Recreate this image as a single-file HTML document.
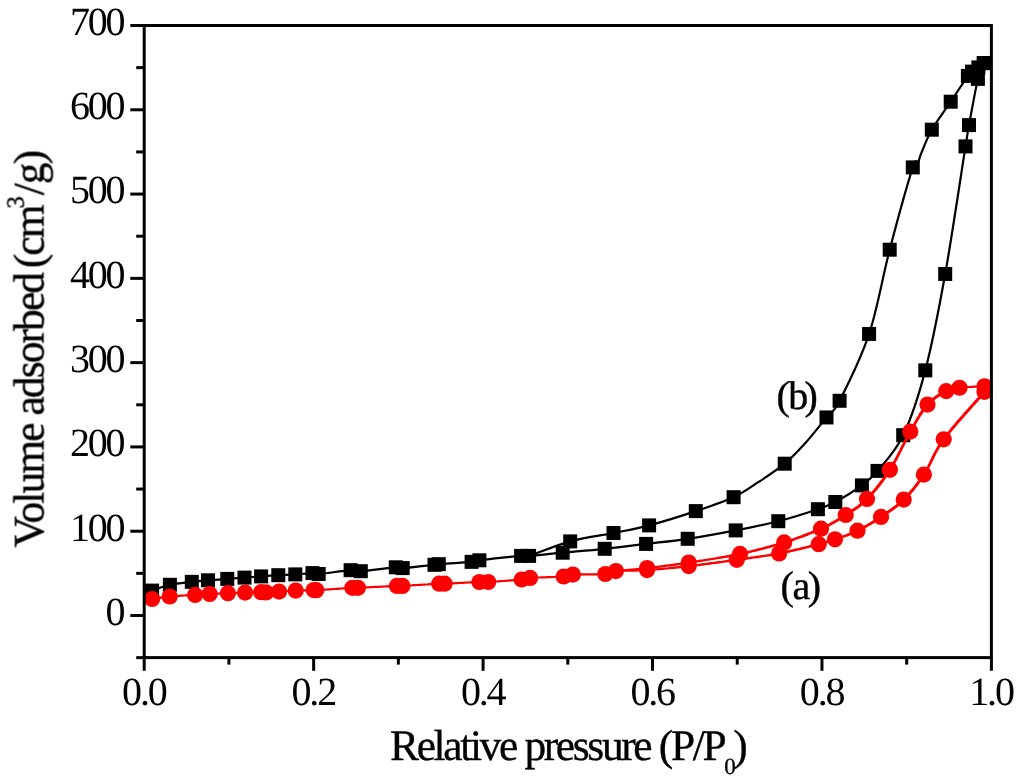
<!DOCTYPE html>
<html><head><meta charset="utf-8"><title>Isotherms</title>
<style>html,body{margin:0;padding:0;background:#fff;}body{width:1024px;height:783px;overflow:hidden;}svg{display:block;}text{font-family:"Liberation Serif",serif;fill:#000;text-rendering:geometricPrecision;}</style>
</head><body>
<svg width="1024" height="783" viewBox="0 0 1024 783">
<rect x="0" y="0" width="1024" height="783" fill="#fff"/>
<defs><clipPath id="cp"><rect x="144.20" y="25.50" width="848.70" height="632.10"/></clipPath></defs>
<g clip-path="url(#cp)">
<path fill="none" stroke="#000" stroke-width="2.20" stroke-linejoin="round" stroke-linecap="round" d="M152.10 590.60 C155.07 589.63 163.28 586.26 169.90 584.80 C176.52 583.34 185.45 582.60 191.80 581.85 C198.15 581.10 202.08 580.79 208.00 580.30 C213.92 579.81 221.22 579.35 227.30 578.90 C233.38 578.45 238.87 578.02 244.50 577.60 C250.13 577.18 255.47 576.80 261.10 576.40 C266.73 576.00 272.60 575.53 278.30 575.20 C284.00 574.87 289.60 574.75 295.30 574.40 C301.00 574.05 308.60 573.17 312.50 573.10 C316.40 573.03 312.35 574.48 318.70 574.00 C325.05 573.52 343.58 570.67 350.60 570.20 C357.62 569.73 353.27 571.68 360.80 571.20 C368.33 570.72 388.82 567.82 395.80 567.30 C402.78 566.78 396.25 568.52 402.70 568.10 C409.15 567.68 428.48 565.45 434.50 564.80 C440.52 564.15 432.62 564.69 438.80 564.20 C444.98 563.71 464.83 562.50 471.60 561.85 C478.37 561.20 471.15 561.29 479.40 560.30 C487.65 559.31 512.82 556.63 521.10 555.90 C529.38 555.17 522.17 556.43 529.10 555.90 C536.03 555.37 550.10 553.88 562.70 552.70 C575.30 551.52 590.80 550.27 604.70 548.80 C618.60 547.33 632.27 545.57 646.10 543.90 C659.93 542.23 672.77 541.05 687.70 538.80 C702.63 536.55 720.60 533.33 735.70 530.40 C750.80 527.47 764.60 524.73 778.30 521.20 C792.00 517.67 808.40 512.40 817.90 509.20 C827.40 506.00 827.97 505.97 835.30 502.00 C842.63 498.03 854.87 490.58 861.90 485.40 C868.93 480.22 870.62 479.27 877.50 470.90 C884.38 462.53 895.23 451.96 903.20 435.21 C911.17 418.45 918.30 397.23 925.30 370.36 C932.30 343.50 938.50 311.33 945.20 274.00 C951.90 236.67 961.53 171.22 965.50 146.40 C969.47 121.58 966.93 136.35 969.00 125.10 C971.07 113.85 975.43 89.23 977.90 78.90 C980.37 68.57 982.82 65.73 983.80 63.10 M983.80 63.10 C982.90 63.82 980.37 65.98 978.40 67.40 C976.43 68.82 973.75 70.18 972.00 71.60 C970.25 73.02 971.45 70.88 967.90 75.90 C964.35 80.92 956.72 92.73 950.70 101.70 C944.68 110.67 936.70 121.12 931.80 129.70 C926.90 138.28 923.73 147.32 921.30 153.20 C918.87 159.08 918.62 162.63 917.20 165.00 C915.78 167.37 917.38 153.28 912.80 167.40 C908.22 181.52 896.98 221.95 889.70 249.70 C882.42 277.45 877.45 308.75 869.10 333.93 C860.75 359.11 846.70 386.86 839.60 400.78 C832.50 414.70 832.43 410.13 826.50 417.44 C820.57 424.74 810.97 436.89 804.00 444.60 C797.03 452.31 792.32 457.43 784.70 463.70 C777.08 469.97 766.82 476.62 758.30 482.20 C749.78 487.78 744.02 492.38 733.60 497.20 C723.18 502.02 709.88 506.40 695.80 511.10 C681.72 515.80 662.82 521.75 649.10 525.40 C635.38 529.05 626.65 530.33 613.50 533.00 C600.35 535.67 584.27 537.58 570.20 541.40 C556.13 545.22 537.28 553.48 529.10 555.90 C520.92 558.32 522.43 555.90 521.10 555.90"/>
<g fill="#000">
<rect x="145.10" y="583.60" width="14.00" height="14.00"/>
<rect x="162.90" y="577.80" width="14.00" height="14.00"/>
<rect x="184.80" y="574.85" width="14.00" height="14.00"/>
<rect x="201.00" y="573.30" width="14.00" height="14.00"/>
<rect x="220.30" y="571.90" width="14.00" height="14.00"/>
<rect x="237.50" y="570.60" width="14.00" height="14.00"/>
<rect x="254.10" y="569.40" width="14.00" height="14.00"/>
<rect x="271.30" y="568.20" width="14.00" height="14.00"/>
<rect x="288.30" y="567.40" width="14.00" height="14.00"/>
<rect x="305.50" y="566.10" width="14.00" height="14.00"/>
<rect x="343.60" y="563.20" width="14.00" height="14.00"/>
<rect x="388.80" y="560.30" width="14.00" height="14.00"/>
<rect x="427.50" y="557.80" width="14.00" height="14.00"/>
<rect x="464.60" y="554.85" width="14.00" height="14.00"/>
<rect x="514.10" y="548.90" width="14.00" height="14.00"/>
<rect x="555.70" y="545.70" width="14.00" height="14.00"/>
<rect x="597.70" y="541.80" width="14.00" height="14.00"/>
<rect x="639.10" y="536.90" width="14.00" height="14.00"/>
<rect x="680.70" y="531.80" width="14.00" height="14.00"/>
<rect x="728.70" y="523.40" width="14.00" height="14.00"/>
<rect x="771.30" y="514.20" width="14.00" height="14.00"/>
<rect x="810.90" y="502.20" width="14.00" height="14.00"/>
<rect x="828.30" y="495.00" width="14.00" height="14.00"/>
<rect x="854.90" y="478.40" width="14.00" height="14.00"/>
<rect x="870.50" y="463.90" width="14.00" height="14.00"/>
<rect x="896.20" y="428.21" width="14.00" height="14.00"/>
<rect x="918.30" y="363.36" width="14.00" height="14.00"/>
<rect x="938.20" y="267.00" width="14.00" height="14.00"/>
<rect x="958.50" y="139.40" width="14.00" height="14.00"/>
<rect x="962.00" y="118.10" width="14.00" height="14.00"/>
<rect x="970.90" y="71.90" width="14.00" height="14.00"/>
<rect x="976.80" y="56.10" width="14.00" height="14.00"/>
<rect x="976.80" y="56.10" width="14.00" height="14.00"/>
<rect x="971.40" y="60.40" width="14.00" height="14.00"/>
<rect x="965.00" y="64.60" width="14.00" height="14.00"/>
<rect x="960.90" y="68.90" width="14.00" height="14.00"/>
<rect x="943.70" y="94.70" width="14.00" height="14.00"/>
<rect x="924.80" y="122.70" width="14.00" height="14.00"/>
<rect x="905.80" y="160.40" width="14.00" height="14.00"/>
<rect x="882.70" y="242.70" width="14.00" height="14.00"/>
<rect x="862.10" y="326.93" width="14.00" height="14.00"/>
<rect x="832.60" y="393.78" width="14.00" height="14.00"/>
<rect x="819.50" y="410.44" width="14.00" height="14.00"/>
<rect x="777.70" y="456.70" width="14.00" height="14.00"/>
<rect x="726.60" y="490.20" width="14.00" height="14.00"/>
<rect x="688.80" y="504.10" width="14.00" height="14.00"/>
<rect x="642.10" y="518.40" width="14.00" height="14.00"/>
<rect x="606.50" y="526.00" width="14.00" height="14.00"/>
<rect x="563.20" y="534.40" width="14.00" height="14.00"/>
<rect x="522.10" y="548.90" width="14.00" height="14.00"/>
<rect x="472.40" y="553.30" width="14.00" height="14.00"/>
<rect x="431.80" y="557.20" width="14.00" height="14.00"/>
<rect x="395.70" y="561.10" width="14.00" height="14.00"/>
<rect x="353.80" y="564.20" width="14.00" height="14.00"/>
<rect x="311.70" y="567.00" width="14.00" height="14.00"/>
</g>
<g fill="none" stroke="#ff0000" stroke-linejoin="round" stroke-linecap="round">
<path stroke-width="2.4" d="M152.1 599.0 L153.0 598.9 L154.1 598.7 L155.4 598.5 L156.9 598.2 L158.5 598.0 L160.2 597.7 L162.0 597.4 L163.9 597.2 L165.8 596.9 L167.7 596.7 L169.7 596.5"/>
<path stroke-width="2.2" d="M169.7 596.5 L171.1 596.4 L172.6 596.3 L174.1 596.1 L175.8 596.0 L177.4 595.9 L179.1 595.8 L180.9 595.7 L182.6 595.6 L184.3 595.5 L186.0 595.4 L187.7 595.3 L189.3 595.2 L190.9 595.1 L192.4 595.1 L193.8 595.0 L195.1 594.9 L197.2 594.8 L199.0 594.7 L200.6 594.5 L202.1 594.4 L203.6 594.4 L205.0 594.3 L206.4 594.2 L208.0 594.1 L209.7 594.0 L211.1 593.9 L212.5 593.9 L214.0 593.8 L215.5 593.7 L217.1 593.6 L218.6 593.6 L220.2 593.5 L221.8 593.4 L223.3 593.4 L224.9 593.3 L226.4 593.3 L227.9 593.2 L229.5 593.1 L231.1 593.1 L232.7 593.0 L234.3 593.0 L235.9 592.9 L237.4 592.8 L239.0 592.8 L240.5 592.7 L242.1 592.7 L243.6 592.6 L245.1 592.6 L246.8 592.5 L248.6 592.5 L250.3 592.4 L252.1 592.4 L253.9 592.4 L255.6 592.3 L257.2 592.3 L258.6 592.2 L260.0 592.2 L261.1 592.2 L263.3 592.3"/>
<path stroke-width="2.4" d="M263.3 592.3 L264.2 592.4"/>
<path stroke-width="2.2" d="M264.2 592.4 L266.0 592.4 L267.2 592.3 L268.6 592.3 L270.2 592.2 L271.8 592.1 L273.6 592.0 L275.4 591.8 L277.2 591.7 L279.1 591.6 L280.5 591.5 L281.9 591.4 L283.3 591.3 L284.8 591.2 L286.3 591.1 L287.9 591.0 L289.4 590.9 L291.0 590.8 L292.5 590.8 L294.1 590.7 L295.7 590.6 L297.2 590.5 L298.8 590.5 L300.5 590.4 L302.2 590.4 L303.9 590.3 L305.6 590.3 L307.2 590.2 L308.8 590.2 L310.2 590.2 L311.6 590.1 L312.7 590.1 L313.7 590.1"/>
<path stroke-width="3.0" d="M313.7 590.1 L313.9 590.3"/>
<path stroke-width="2.2" d="M313.9 590.3 L316.3 590.2 L317.2 590.1 L318.2 590.1 L319.4 590.0 L320.7 589.9 L322.2 589.8 L323.7 589.7 L325.3 589.6 L327.0 589.5 L328.7 589.4 L330.5 589.3 L332.3 589.1 L334.2 589.0 L336.0 588.9 L337.8 588.8 L339.6 588.6 L341.4 588.5 L343.1 588.4 L344.7 588.3 L346.3 588.2 L347.8 588.1 L349.1 588.0 L350.4 587.9 L351.5 587.9 L352.4 587.8 L355.3 587.7"/>
<path stroke-width="2.6" d="M355.3 587.7 L354.7 587.9"/>
<path stroke-width="2.2" d="M354.7 587.9 L357.9 587.8 L358.8 587.8 L359.9 587.7 L361.1 587.7 L362.4 587.6 L363.8 587.5 L365.3 587.5 L366.9 587.4 L368.5 587.3 L370.2 587.2 L372.0 587.1 L373.8 587.0 L375.6 586.9 L377.4 586.8 L379.2 586.8 L381.0 586.7 L382.8 586.6 L384.6 586.5 L386.3 586.4 L387.9 586.3 L389.5 586.2 L391.0 586.2 L392.4 586.1 L393.7 586.0 L394.9 586.0 L396.0 585.9 L396.9 585.9 L400.1 585.8"/>
<path stroke-width="2.6" d="M400.1 585.8 L399.5 586.0"/>
<path stroke-width="2.2" d="M399.5 586.0 L402.4 585.9 L403.4 585.8 L404.5 585.8 L405.7 585.7 L407.1 585.6 L408.6 585.5 L410.1 585.5 L411.8 585.4 L413.5 585.2 L415.3 585.1 L417.1 585.0 L418.9 584.9 L420.8 584.8 L422.7 584.7 L424.5 584.6 L426.3 584.5 L428.1 584.4 L429.8 584.2 L431.5 584.1 L433.0 584.1 L434.5 584.0 L435.9 583.9 L437.1 583.8 L438.2 583.8 L439.2 583.7 L442.2 583.6"/>
<path stroke-width="2.6" d="M442.2 583.6 L441.8 583.7"/>
<path stroke-width="2.2" d="M441.8 583.7 L444.6 583.7 L445.6 583.7 L446.7 583.6 L447.9 583.5 L449.2 583.5 L450.7 583.4 L452.2 583.3 L453.9 583.3 L455.6 583.2 L457.3 583.1 L459.1 583.0 L460.9 582.9 L462.7 582.8 L464.5 582.7 L466.3 582.6 L468.1 582.5 L469.8 582.4 L471.4 582.4 L473.0 582.3 L474.5 582.2 L475.9 582.2 L477.2 582.1 L478.4 582.0 L479.4 582.0 L482.4 581.9 L483.6 582.0"/>
<path stroke-width="2.4" d="M483.6 582.0 L484.1 582.1"/>
<path stroke-width="2.2" d="M484.1 582.1 L485.3 582.1 L488.2 582.0 L489.2 581.9 L490.4 581.9 L491.7 581.8 L493.1 581.7 L494.6 581.6 L496.2 581.5 L497.9 581.4 L499.6 581.2 L501.4 581.1 L503.2 581.0 L505.0 580.9 L506.8 580.7 L508.6 580.6 L510.3 580.4 L512.0 580.3 L513.7 580.2 L515.3 580.1 L516.8 579.9 L518.2 579.8 L519.5 579.7 L520.7 579.6 L521.7 579.5"/>
<path stroke-width="2.4" d="M521.7 579.5 L524.6 579.1"/>
<path stroke-width="2.6" d="M524.6 579.1 L525.7 578.8"/>
<path stroke-width="3.0" d="M525.7 578.8 L526.1 578.5"/>
<path stroke-width="2.6" d="M526.1 578.5 L527.2 578.2"/>
<path stroke-width="2.4" d="M527.2 578.2 L530.1 577.9"/>
<path stroke-width="2.2" d="M530.1 577.9 L531.1 577.8 L532.3 577.8 L533.6 577.7 L535.0 577.6 L536.5 577.6 L538.1 577.5 L539.8 577.5 L541.5 577.4 L543.3 577.3 L545.0 577.3 L546.9 577.2 L548.7 577.2 L550.5 577.1 L552.2 577.0 L553.9 577.0 L555.6 576.9 L557.2 576.8 L558.7 576.8 L560.2 576.7 L561.5 576.6 L562.7 576.6 L563.7 576.5"/>
<path stroke-width="2.4" d="M563.7 576.5 L566.4 576.2"/>
<path stroke-width="2.6" d="M566.4 576.2 L567.7 575.9"/>
<path stroke-width="2.8" d="M567.7 575.9 L568.4 575.5 L569.0 575.2"/>
<path stroke-width="2.6" d="M569.0 575.2 L570.3 574.8"/>
<path stroke-width="2.2" d="M570.3 574.8 L572.9 574.6 L574.0 574.5 L575.2 574.5 L576.5 574.5 L577.9 574.4 L579.5 574.4 L581.1 574.4 L582.8 574.4 L584.5 574.4 L586.3 574.4 L588.1 574.4 L589.9 574.4 L591.7 574.3 L593.5 574.3 L595.3 574.3 L597.0 574.3 L598.6 574.3 L600.1 574.2 L601.6 574.2 L603.0 574.1 L604.2 574.1 L605.3 574.0"/>
<path stroke-width="2.4" d="M605.3 574.0 L607.8 573.7"/>
<path stroke-width="2.6" d="M607.8 573.7 L609.3 573.3"/>
<path stroke-width="2.8" d="M609.3 573.3 L610.3 572.8 L611.1 572.3 L612.0 571.9"/>
<path stroke-width="2.6" d="M612.0 571.9 L613.5 571.4"/>
<path stroke-width="2.4" d="M613.5 571.4 L615.9 571.1"/>
<path stroke-width="2.2" d="M615.9 571.1 L617.0 571.0 L618.1 570.9 L619.4 570.9 L620.7 570.8 L622.0 570.8 L623.4 570.8 L624.9 570.7 L626.4 570.7 L628.0 570.7 L629.6 570.7 L631.2 570.6 L632.9 570.6 L634.6 570.6 L636.3 570.6 L638.1 570.5 L639.9 570.5 L641.7 570.4 L643.5 570.3 L645.3 570.2 L647.1 570.1 L648.5 570.0 L649.8 569.9 L651.2 569.8 L652.6 569.7 L654.1 569.6 L655.5 569.5 L657.0 569.3 L658.5 569.2 L660.0 569.1 L661.5 568.9 L663.0 568.8 L664.5 568.7 L666.1 568.5 L667.6 568.4 L669.2 568.2 L670.8 568.0"/>
<path stroke-width="2.4" d="M670.8 568.0 L672.4 567.9 L674.0 567.7 L675.6 567.5 L677.2 567.4 L678.8 567.2 L680.5 567.0 L682.1 566.8 L683.7 566.7 L685.4 566.5 L687.0 566.3 L688.7 566.1 L690.1 565.9 L691.5 565.8 L693.0 565.6 L694.4 565.4 L695.9 565.2 L697.4 565.1 L698.9 564.9 L700.4 564.7 L701.9 564.5 L703.4 564.3 L705.0 564.1 L706.5 563.9 L708.1 563.7 L709.6 563.5 L711.2 563.3 L712.7 563.1 L714.3 562.9 L715.8 562.7 L717.4 562.5 L718.9 562.3 L720.4 562.1 L722.0 561.9 L723.5 561.6 L725.0 561.4 L726.5 561.2 L728.0 561.0 L729.5 560.8 L731.0 560.6 L732.5 560.4 L733.9 560.2 L735.4 560.0 L736.8 559.8 L738.4 559.6 L740.0 559.4 L741.6 559.1 L743.2 558.9 L744.7 558.7 L746.3 558.5 L747.8 558.3 L749.4 558.1 L750.9 557.8 L752.4 557.6 L754.0 557.4 L755.5 557.2 L757.0 557.0 L758.5 556.8 L760.0 556.6 L761.5 556.3 L762.9 556.1 L764.4 555.9 L765.9 555.7 L767.4 555.4 L768.9 555.2 L770.3 555.0 L771.8 554.7 L773.2 554.5 L774.7 554.2 L776.2 553.9 L777.6 553.7 L779.1 553.4 L780.6 553.1 L782.2 552.8 L783.7 552.5 L785.3 552.1 L786.9 551.8 L788.5 551.5"/>
<path stroke-width="2.6" d="M788.5 551.5 L790.1 551.1 L791.8 550.7 L793.4 550.4 L795.0 550.0 L796.6 549.6 L798.2 549.3 L799.7 548.9 L801.3 548.5 L802.8 548.1 L804.4 547.8 L805.9 547.4 L807.3 547.1 L808.8 546.7 L810.2 546.3 L811.5 546.0 L812.8 545.7 L814.1 545.4 L815.3 545.0 L816.5 544.8 L817.6 544.5 L818.7 544.2 L821.0 543.6 L823.0 543.1 L824.7 542.7 L826.1 542.3 L827.3 541.9 L828.5 541.5 L829.6 541.2 L830.7 540.8 L832.0 540.4 L833.4 539.9 L835.0 539.3 L836.2 538.9 L837.5 538.4 L838.8 538.0 L840.2 537.5 L841.5 537.1 L842.9 536.6 L844.4 536.1 L845.8 535.6 L847.3 535.0"/>
<path stroke-width="2.8" d="M847.3 535.0 L848.7 534.5 L850.2 533.9 L851.7 533.3 L853.1 532.7 L854.6 532.0 L856.1 531.4 L857.5 530.7 L858.8 530.1 L860.1 529.4 L861.4 528.7 L862.7 528.1 L864.0 527.3 L865.3 526.6 L866.6 525.9 L867.9 525.1 L869.2 524.3 L870.6 523.6 L871.9 522.8 L873.2 522.0 L874.5 521.1 L875.8 520.3"/>
<path stroke-width="3.0" d="M875.8 520.3 L877.1 519.5 L878.4 518.6 L879.7 517.8 L881.0 516.9 L882.2 516.1 L883.4 515.3 L884.7 514.4 L885.9 513.6 L887.1 512.8 L888.3 512.0 L889.5 511.1 L890.7 510.3 L892.0 509.4 L893.2 508.5 L894.4 507.6 L895.6 506.7 L896.7 505.8 L897.9 504.8 L899.1 503.8 L900.3 502.8 L901.4 501.8 L902.6 500.7 L903.7 499.6 L904.7 498.6 L905.7 497.6 L906.7 496.5 L907.7 495.5 L908.7 494.4 L909.7 493.3 L910.6 492.2 L911.6 491.1 L912.6 490.0 L913.5 488.8 L914.5 487.6 L915.4 486.4 L916.3 485.2 L917.3 484.0 L918.2 482.7 L919.2 481.4 L920.1 480.1 L921.1 478.8 L922.0 477.4 L922.9 476.0 L923.9 474.6 L924.7 473.4"/>
<path stroke-width="2.8" d="M924.7 473.4 L925.4 472.3 L926.1 471.1 L926.8 469.9 L927.4 468.6 L928.1 467.4 L928.7 466.2 L929.3 464.9 L930.0 463.6 L930.6 462.3 L931.2 461.0 L931.9 459.7 L932.5 458.4 L933.2 457.0 L933.9 455.6 L934.6 454.2 L935.3 452.8 L936.1 451.4 L936.9 450.0 L937.7 448.5 L938.6 447.0 L939.5 445.5 L940.5 444.0"/>
<path stroke-width="3.0" d="M940.5 444.0 L941.5 442.5 L942.6 440.9 L943.7 439.3 L944.5 438.3 L945.3 437.2 L946.1 436.1 L947.0 435.0 L948.0 433.8 L948.9 432.6 L949.9 431.4 L951.0 430.1 L952.0 428.8 L953.1 427.5 L954.2 426.2 L955.3 424.9 L956.5 423.5 L957.6 422.2 L958.8 420.8 L960.0 419.5 L961.2 418.1 L962.4 416.8 L963.6 415.4 L964.7 414.0 L965.9 412.7 L967.1 411.4 L968.3 410.1 L969.4 408.8 L970.6 407.5 L971.7 406.2 L972.8 405.0 L973.9 403.8 L974.9 402.6 L975.9 401.5 L976.9 400.4 L977.9 399.3 L978.8 398.3 L979.7 397.3 L980.5 396.4 L981.3 395.5 L982.1 394.6 L982.7 393.9 L983.4 393.1 L984.0 392.5 L984.5 391.8"/>
<path stroke-width="2.2" d="M984.5 386.3 L983.6 386.4 L982.5 386.4 L981.2 386.5 L979.7 386.5 L978.1 386.6 L976.4 386.7 L974.7 386.7 L972.8 386.8 L971.0 386.9 L969.1 387.0 L967.3 387.1 L965.5 387.2 L963.8 387.3 L962.2 387.4 L960.8 387.6"/>
<path stroke-width="2.4" d="M960.8 387.6 L959.5 387.7 L957.5 388.0 L955.9 388.2 L954.4 388.3 L953.1 388.6 L951.8 388.8"/>
<path stroke-width="2.6" d="M951.8 388.8 L950.6 389.2 L949.3 389.7"/>
<path stroke-width="2.8" d="M949.3 389.7 L947.9 390.3 L946.2 391.1 L945.1 391.7 L944.0 392.3 L942.8 393.0 L941.6 393.7 L940.3 394.4 L939.0 395.1 L937.7 396.0"/>
<path stroke-width="3.0" d="M937.7 396.0 L936.4 396.8 L935.1 397.8 L933.8 398.7 L932.5 399.8 L931.2 400.9 L930.0 402.0 L928.7 403.3 L927.5 404.6 L926.7 405.6 L925.8 406.6 L925.0 407.6 L924.2 408.7 L923.4 409.8 L922.6 411.0 L921.8 412.2 L921.0 413.4"/>
<path stroke-width="2.8" d="M921.0 413.4 L920.2 414.6 L919.4 415.9 L918.6 417.2 L917.8 418.5 L917.0 419.9 L916.2 421.3 L915.4 422.7 L914.6 424.1 L913.8 425.6 L912.9 427.0 L912.1 428.5 L911.2 430.0 L910.3 431.6 L909.6 432.8 L908.9 434.0 L908.3 435.3 L907.6 436.5 L906.9 437.9 L906.2 439.2 L905.5 440.6 L904.8 442.0 L904.1 443.4 L903.4 444.8 L902.6 446.2 L901.9 447.7 L901.2 449.1 L900.5 450.6 L899.7 452.0 L899.0 453.5 L898.2 454.9 L897.5 456.4 L896.8 457.8 L896.0 459.2 L895.3 460.6 L894.5 462.0 L893.7 463.4 L893.0 464.7 L892.2 466.0 L891.4 467.3 L890.7 468.6 L889.9 469.8"/>
<path stroke-width="3.0" d="M889.9 469.8 L889.0 471.2 L888.1 472.6 L887.1 474.0 L886.2 475.3 L885.3 476.7 L884.3 478.0 L883.4 479.3 L882.4 480.7 L881.4 482.0 L880.5 483.2 L879.5 484.5 L878.5 485.7 L877.5 487.0 L876.6 488.2 L875.6 489.3 L874.6 490.5 L873.6 491.6 L872.7 492.8 L871.7 493.8 L870.8 494.9 L869.8 495.9 L868.9 497.0 L867.9 497.9 L867.0 498.9 L865.7 500.2 L864.4 501.4 L863.2 502.5 L862.0 503.6 L860.7 504.7 L859.5 505.6 L858.3 506.6 L857.1 507.5 L855.9 508.3 L854.6 509.2 L853.4 510.0 L852.2 510.8 L850.9 511.7 L849.6 512.5 L848.4 513.3 L847.0 514.1 L845.7 515.0 L844.4 515.8 L843.2 516.6"/>
<path stroke-width="2.8" d="M843.2 516.6 L841.9 517.4 L840.7 518.2 L839.4 519.0 L838.2 519.7 L836.9 520.5 L835.6 521.3 L834.3 522.0 L833.0 522.7 L831.6 523.5 L830.3 524.2 L828.8 525.0 L827.4 525.7 L825.9 526.4 L824.3 527.2 L822.7 527.9 L821.0 528.7 L819.8 529.2 L818.6 529.8 L817.3 530.3 L816.1 530.8 L814.8 531.4 L813.5 531.9 L812.2 532.4 L810.8 533.0 L809.4 533.5 L808.1 534.1 L806.7 534.6 L805.2 535.1 L803.8 535.7"/>
<path stroke-width="2.6" d="M803.8 535.7 L802.4 536.2 L800.9 536.8 L799.4 537.3 L798.0 537.8 L796.5 538.3 L795.0 538.9 L793.4 539.4 L791.9 539.9 L790.4 540.4 L788.9 540.9 L787.3 541.4 L785.8 541.9 L784.2 542.4 L782.8 542.8 L781.5 543.2 L780.1 543.7 L778.7 544.1 L777.3 544.5 L775.9 544.9 L774.5 545.3 L773.1 545.7 L771.7 546.1 L770.3 546.5 L768.8 546.9 L767.4 547.3 L765.9 547.7 L764.5 548.1 L763.0 548.5 L761.5 548.8 L760.0 549.2 L758.5 549.6 L757.0 550.0 L755.5 550.4 L754.0 550.7 L752.5 551.1 L751.0 551.5 L749.4 551.8 L747.9 552.2 L746.3 552.5 L744.7 552.9 L743.2 553.2"/>
<path stroke-width="2.4" d="M743.2 553.2 L741.6 553.6 L740.0 553.9 L738.6 554.2 L737.2 554.5 L735.7 554.8 L734.2 555.1 L732.7 555.4 L731.2 555.6 L729.7 555.9 L728.2 556.2 L726.7 556.5 L725.1 556.8 L723.6 557.0 L722.0 557.3 L720.5 557.6 L718.9 557.8 L717.3 558.1 L715.8 558.4 L714.2 558.6 L712.6 558.9 L711.1 559.1 L709.5 559.4 L707.9 559.6 L706.4 559.9 L704.8 560.1 L703.3 560.4 L701.8 560.6 L700.3 560.8 L698.8 561.1 L697.3 561.3 L695.8 561.5 L694.3 561.7 L692.9 562.0 L691.5 562.2 L690.1 562.4 L688.7 562.6 L687.0 562.9 L685.3 563.1 L683.6 563.4 L681.9 563.6 L680.3 563.9 L678.6 564.1 L677.0 564.3 L675.3 564.5 L673.7 564.8 L672.1 565.0 L670.5 565.2 L669.0 565.4 L667.4 565.6 L665.9 565.8 L664.3 566.0 L662.8 566.2 L661.3 566.4 L659.8 566.6 L658.4 566.8 L656.9 566.9 L655.5 567.1 L654.0 567.3 L652.6 567.4 L651.2 567.6 L649.8 567.8 L648.5 567.9 L647.1 568.1 L645.3 568.3 L643.5 568.5 L641.7 568.7"/>
<path stroke-width="2.2" d="M641.7 568.7 L639.9 568.9 L638.1 569.0 L636.3 569.2 L634.6 569.3 L632.9 569.5 L631.2 569.6 L629.6 569.8 L628.0 569.9 L626.4 570.0 L624.9 570.2 L623.4 570.3 L622.0 570.4 L620.7 570.5"/>
<path stroke-width="2.4" d="M620.7 570.5 L619.4 570.7 L618.1 570.8 L617.0 571.0 L615.9 571.1 L613.2 571.5"/>
<path stroke-width="2.6" d="M613.2 571.5 L611.1 572.0 L609.4 572.5 L608.0 573.0"/>
<path stroke-width="2.8" d="M608.0 573.0 L607.0 573.4 L606.1 573.7"/>
<path stroke-width="2.6" d="M606.1 573.7 L605.3 574.0"/>
</g>
<g fill="#ff0000">
<circle cx="152.10" cy="599.00" r="8.10"/>
<circle cx="169.70" cy="596.50" r="8.10"/>
<circle cx="195.10" cy="594.90" r="8.10"/>
<circle cx="209.70" cy="594.00" r="8.10"/>
<circle cx="227.90" cy="593.20" r="8.10"/>
<circle cx="245.10" cy="592.60" r="8.10"/>
<circle cx="261.10" cy="592.20" r="8.10"/>
<circle cx="279.10" cy="591.60" r="8.10"/>
<circle cx="295.70" cy="590.60" r="8.10"/>
<circle cx="313.70" cy="590.10" r="8.10"/>
<circle cx="352.40" cy="587.80" r="8.10"/>
<circle cx="396.90" cy="585.90" r="8.10"/>
<circle cx="439.20" cy="583.70" r="8.10"/>
<circle cx="479.40" cy="582.00" r="8.10"/>
<circle cx="521.70" cy="579.50" r="8.10"/>
<circle cx="563.70" cy="576.50" r="8.10"/>
<circle cx="605.30" cy="574.00" r="8.10"/>
<circle cx="647.10" cy="570.10" r="8.10"/>
<circle cx="688.70" cy="566.10" r="8.10"/>
<circle cx="736.80" cy="559.80" r="8.10"/>
<circle cx="779.10" cy="553.40" r="8.10"/>
<circle cx="818.70" cy="544.20" r="8.10"/>
<circle cx="835.00" cy="539.30" r="8.10"/>
<circle cx="857.50" cy="530.70" r="8.10"/>
<circle cx="881.00" cy="516.90" r="8.10"/>
<circle cx="903.70" cy="499.60" r="8.10"/>
<circle cx="923.90" cy="474.60" r="8.10"/>
<circle cx="943.70" cy="439.32" r="8.10"/>
<circle cx="984.50" cy="391.84" r="8.10"/>
<circle cx="984.50" cy="386.32" r="8.10"/>
<circle cx="959.50" cy="387.73" r="8.10"/>
<circle cx="946.20" cy="391.14" r="8.10"/>
<circle cx="927.50" cy="404.59" r="8.10"/>
<circle cx="910.30" cy="431.59" r="8.10"/>
<circle cx="889.90" cy="469.80" r="8.10"/>
<circle cx="867.00" cy="498.90" r="8.10"/>
<circle cx="845.70" cy="515.00" r="8.10"/>
<circle cx="821.00" cy="528.70" r="8.10"/>
<circle cx="784.20" cy="542.40" r="8.10"/>
<circle cx="740.00" cy="553.90" r="8.10"/>
<circle cx="688.70" cy="562.60" r="8.10"/>
<circle cx="647.10" cy="568.10" r="8.10"/>
<circle cx="615.90" cy="571.10" r="8.10"/>
<circle cx="572.90" cy="574.60" r="8.10"/>
<circle cx="530.10" cy="577.90" r="8.10"/>
<circle cx="488.20" cy="582.00" r="8.10"/>
<circle cx="444.60" cy="583.70" r="8.10"/>
<circle cx="402.40" cy="585.90" r="8.10"/>
<circle cx="357.90" cy="587.80" r="8.10"/>
<circle cx="316.30" cy="590.20" r="8.10"/>
<circle cx="266.00" cy="592.40" r="8.10"/>
</g>
</g>
<g stroke="#000" stroke-width="3.00" fill="none" stroke-linecap="butt">
<rect x="144.20" y="25.50" width="847.20" height="632.10"/>
<line x1="136.20" y1="657.64" x2="144.20" y2="657.64"/>
<line x1="130.30" y1="615.50" x2="144.20" y2="615.50"/>
<line x1="136.20" y1="573.36" x2="144.20" y2="573.36"/>
<line x1="130.30" y1="531.21" x2="144.20" y2="531.21"/>
<line x1="136.20" y1="489.07" x2="144.20" y2="489.07"/>
<line x1="130.30" y1="446.93" x2="144.20" y2="446.93"/>
<line x1="136.20" y1="404.79" x2="144.20" y2="404.79"/>
<line x1="130.30" y1="362.64" x2="144.20" y2="362.64"/>
<line x1="136.20" y1="320.50" x2="144.20" y2="320.50"/>
<line x1="130.30" y1="278.36" x2="144.20" y2="278.36"/>
<line x1="136.20" y1="236.21" x2="144.20" y2="236.21"/>
<line x1="130.30" y1="194.07" x2="144.20" y2="194.07"/>
<line x1="136.20" y1="151.93" x2="144.20" y2="151.93"/>
<line x1="130.30" y1="109.79" x2="144.20" y2="109.79"/>
<line x1="136.20" y1="67.64" x2="144.20" y2="67.64"/>
<line x1="130.30" y1="25.50" x2="144.20" y2="25.50"/>
<line x1="144.20" y1="657.60" x2="144.20" y2="670.80"/>
<line x1="228.92" y1="657.60" x2="228.92" y2="664.60"/>
<line x1="313.64" y1="657.60" x2="313.64" y2="670.80"/>
<line x1="398.36" y1="657.60" x2="398.36" y2="664.60"/>
<line x1="483.08" y1="657.60" x2="483.08" y2="670.80"/>
<line x1="567.80" y1="657.60" x2="567.80" y2="664.60"/>
<line x1="652.52" y1="657.60" x2="652.52" y2="670.80"/>
<line x1="737.24" y1="657.60" x2="737.24" y2="664.60"/>
<line x1="821.96" y1="657.60" x2="821.96" y2="670.80"/>
<line x1="906.68" y1="657.60" x2="906.68" y2="664.60"/>
<line x1="991.40" y1="657.60" x2="991.40" y2="670.80"/>
</g>
<g opacity="0.999">
<g font-size="40.0" letter-spacing="-2.20" text-anchor="end">
<text x="123.40" y="624.80">0</text>
<text x="123.40" y="540.51">100</text>
<text x="123.40" y="456.23">200</text>
<text x="123.40" y="371.94">300</text>
<text x="123.40" y="287.66">400</text>
<text x="123.40" y="203.37">500</text>
<text x="123.40" y="119.09">600</text>
<text x="123.40" y="34.80">700</text>
</g>
<g font-size="40.0" letter-spacing="-2.20" text-anchor="middle">
<text x="143.80" y="704.50">0.0</text>
<text x="313.24" y="704.50">0.2</text>
<text x="482.68" y="704.50">0.4</text>
<text x="652.12" y="704.50">0.6</text>
<text x="821.56" y="704.50">0.8</text>
<text x="991.00" y="704.50">1.0</text>
</g>
<text id="xt" stroke="#000" stroke-width="0.35" x="390.0" y="759.5" font-size="43.5" letter-spacing="-2.38">Relative pressure (P/P<tspan font-size="23" dy="14.5">0</tspan><tspan dy="-14.5">)</tspan></text>
<text id="yt" stroke="#000" stroke-width="0.35" transform="translate(43.5,547.5) rotate(-90)" font-size="43.5" letter-spacing="-1.92">Volume adsorbed <tspan dx="-3.4">(cm</tspan><tspan font-size="24.5" dx="-2.1" dy="-20">3</tspan><tspan dx="2.8" dy="20">/</tspan><tspan dx="1">g)</tspan></text>
<text id="lb" stroke="#000" stroke-width="0.45" x="776.5" y="408.8" font-size="40.0" letter-spacing="-2.20">(<tspan dx="0.6">b</tspan><tspan dx="-1.5">)</tspan></text>
<text id="la" stroke="#000" stroke-width="0.45" x="780.5" y="599.2" font-size="40.0" letter-spacing="-2.20">(<tspan dx="0.8">a</tspan><tspan dx="-0.3">)</tspan></text>
</g>
</svg>
</body></html>
